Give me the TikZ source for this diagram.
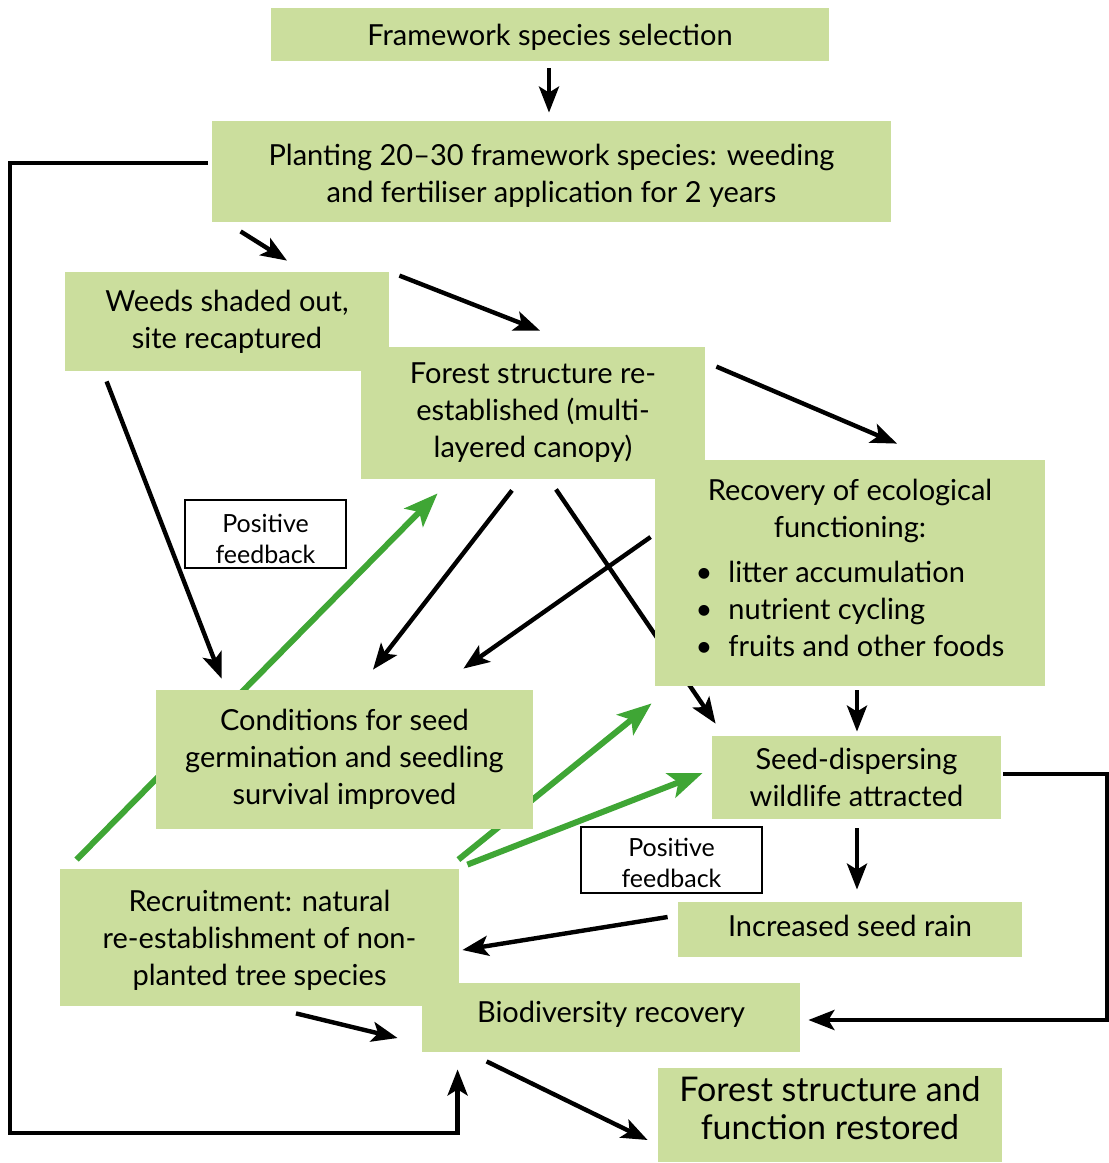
\documentclass[tikz,border=0pt]{standalone}
\usepackage{fontspec}
\setmainfont{Lato}
\usetikzlibrary{calc,arrows.meta}

\definecolor{boxgreen}{RGB}{203,222,157}
\definecolor{arrowgreen}{RGB}{63,166,53}
\pgfdeclarelayer{background}
\pgfsetlayers{background,main}

\tikzset{
  stage/.style={fill=boxgreen,inner sep=0pt,align=center,font=\fontsize{14.5}{18.5}\selectfont},
  feedback/.style={draw,line width=1.2pt,fill=white,inner sep=0pt,align=center,font=\fontsize{12.5}{15.5}\selectfont},
  flow/.style={line width=2.2pt,-{Stealth[length=13pt,width=10pt,inset=3pt]}},
  boost/.style={line width=3pt,arrowgreen,-{Stealth[length=17pt,width=13pt,inset=4pt]}}
}

\begin{document}
\begin{tikzpicture}[x=0.5pt,y=-0.5pt]
  \useasboundingbox (0,0) rectangle (1109,1163);

  % stages
  \node[stage,minimum width=279pt,minimum height=26.5pt,text depth=-0.3pt] (frame) at (550,34.5) {Framework species selection};
  \node[stage,minimum width=339.5pt,minimum height=50.5pt] (plant) at (551.5,171.5) {\rule{0pt}{14.5pt}Planting 20--30 framework species: weeding\\and fertiliser application for 2 years};
  \node[stage,minimum width=162pt,minimum height=49.5pt] (weeds) at (227,321.5) {Weeds shaded out,\\site recaptured};
  \node[stage,minimum width=172pt,minimum height=66pt] (forest) at (533,413) {Forest structure re-\\established (multi-\\layered canopy)};
  \node[stage,minimum width=195pt,minimum height=113pt] (recov) at (850,573) {Recovery of ecological\\functioning:\\[6pt]%
    \begin{tabular}{@{}l@{}}
      \textbullet\hspace{8pt}litter accumulation\\
      \textbullet\hspace{8pt}nutrient cycling\\
      \textbullet\hspace{8pt}fruits and other foods
    \end{tabular}};
  \node[stage,minimum width=188.5pt,minimum height=69.5pt] (cond) at (344.5,759.5) {Conditions for seed\\germination and seedling\\survival improved};
  \node[stage,minimum width=144.5pt,minimum height=41.5pt] (seed) at (856.5,777.5) {Seed-dispersing\\wildlife attracted};
  \node[stage,minimum width=172pt,minimum height=27.5pt,text depth=4pt] (rain) at (850,929.5) {Increased seed rain};
  \node[stage,minimum width=199.5pt,minimum height=68.5pt,text depth=-0.3pt] (recruit) at (259.5,937.5) {Recruitment: natural\\re-establishment of non-\\planted tree species};
  \node[stage,minimum width=189pt,minimum height=34.5pt,text depth=5.7pt] (biodiv) at (611,1017.5) {Biodiversity recovery};
  \node[stage,minimum width=172pt,minimum height=47pt,text depth=7pt,font=\fontsize{17}{19}\selectfont] (restored) at (830,1115) {Forest structure and\\function restored};

  % feedback labels
  \node[feedback,minimum width=80.5pt,minimum height=34pt] (fb1) at (265.5,534) {\rule{0pt}{14.1pt}Positive\\feedback};
  \node[feedback,minimum width=90.5pt,minimum height=33pt] (fb2) at (671.5,860) {\rule{0pt}{12.1pt}Positive\\feedback};

  \begin{pgfonlayer}{background}
    % black arrows
    \draw[flow] ($(frame.south)+(-1,7)$) -- ($(plant.north)+(-2.5,-8)$);
    \draw[flow] ($(plant.south west)+(29,9)$) -- ($(weeds.north)+(60,-11)$);
    \draw[flow] ($(weeds.north east)+(10,4)$) -- ($(forest.north)+(7,-16)$);
    \draw[flow] ($(forest.north east)+(11,20)$) -- ($(recov.north)+(47,-16)$);
    \draw[flow] ($(weeds.south west)+(42,10)$) -- ($(cond.north west)+(66,-11)$);
    \draw[flow] ($(forest.south)+(-21,11)$) -- ($(cond.north)+(28.5,-20)$);
    \draw[flow] ($(forest.south)+(23,10)$) -- ($(seed.north west)+(4,-12)$);
    \draw[flow] ($(recov.west)+(-4,-36)$) -- ($(cond.north east)+(-70,-21)$);
    \draw[flow] ($(recov.south)+(7,4)$) -- ($(seed.north)+(0.5,-4)$);
    \draw[flow] ($(seed.south)+(0.5,9)$) -- ($(rain.north)+(7,-12)$);
    \draw[flow] ($(rain.west)+(-10,-12.5)$) -- ($(recruit.east)+(3,12.5)$);
    \draw[flow] ($(recruit.south)+(36.5,7)$) -- ($(biodiv.west)+(-24,20.5)$);
    \draw[flow] ($(biodiv.south west)+(65,9)$) -- ($(restored.west)+(-10,25)$);
    \draw[flow] ($(plant.west)+(-4,-8.5)$) -| (10,1133) -| ($(biodiv.south west)+(36,17)$);
    \draw[flow] ($(seed.east)+(2,-3.5)$) -- (1107,774) |- ($(biodiv.east)+(8,2.5)$);

    % green arrows
    \draw[boost] ($(recruit.north west)+(17,-9)$) -- ($(forest.south west)+(77,14)$);
    \draw[boost] ($(recruit.north east)+(-1,-9)$) -- ($(recov.south west)+(-3,17)$);
    \draw[boost] ($(recruit.north east)+(8,-4)$) -- ($(seed.west)+(-9,-4.5)$);
  \end{pgfonlayer}
\end{tikzpicture}
\end{document}
